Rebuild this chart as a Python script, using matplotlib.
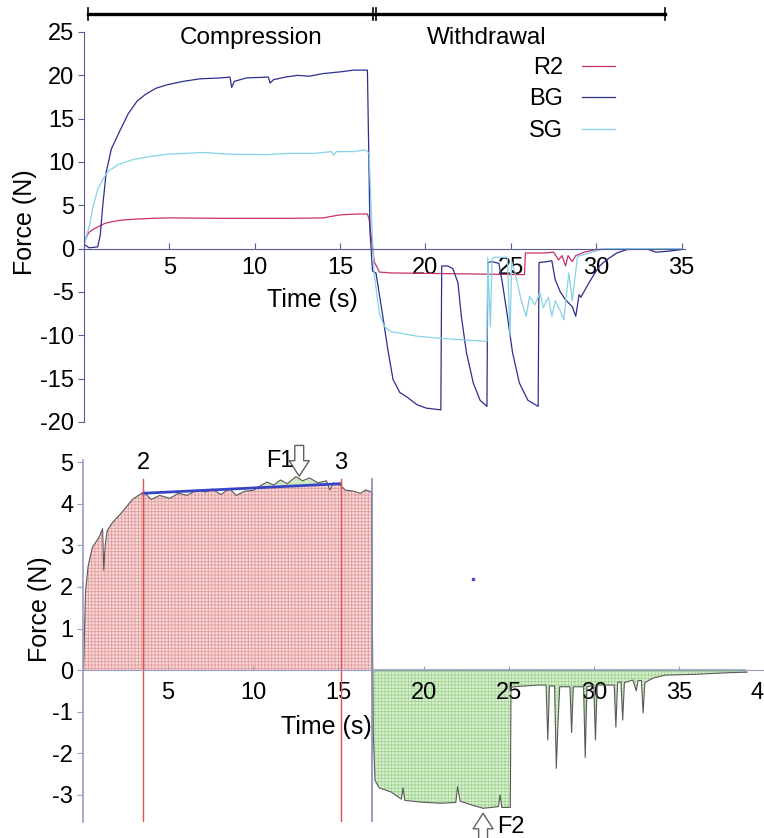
import numpy as np
import matplotlib
matplotlib.use("Agg")
import matplotlib.pyplot as plt  # noqa: E402

plt.rcParams["font.family"] = ["Liberation Sans", "DejaVu Sans"]
plt.rcParams["hatch.linewidth"] = 0.6
plt.rcParams["axes.unicode_minus"] = False

# --- top panel: force traces for the three gel types ---
R2_T = [0, 0.1, 0.3, 0.6, 0.9, 1.2, 1.6, 2.2, 3.0, 4.0, 5.0, 8.0, 12.0, 14.0, 15.0, 16.0,
        16.6, 16.7, 16.85, 17.0, 17.3, 18.0, 22.0, 25.8, 25.85, 27.0, 27.5, 27.8, 28.0,
        28.2, 28.35, 28.6, 28.8, 29.3, 30.0, 31.0, 35.0]
R2_F = [0.5, 1.2, 1.9, 2.3, 2.6, 2.9, 3.1, 3.3, 3.4, 3.5, 3.55, 3.5, 3.5, 3.55, 3.9, 4.0,
        4.0, 3.4, 1.0, -1.5, -2.7, -2.8, -2.9, -3.0, -0.5, -0.5, -0.4, -1.3, -0.8,
        -2.0, -0.8, -1.5, -0.8, -0.4, -0.1, 0.0, 0.0]

BG_T = [0, 0.3, 0.8, 0.95, 1.1, 1.3, 1.6, 2.1, 2.6, 3.1, 3.6, 4.2, 4.85, 5.8, 6.8, 8.0,
        8.55, 8.65, 8.8, 9.5, 10.8, 10.9, 11.1, 11.8, 12.5, 13.2, 14.0, 15.0, 15.8, 16.6,
        16.75, 16.9, 17.1, 17.5, 17.8, 18.1, 18.5, 18.9, 19.5, 20.05, 20.9, 20.95, 21.3,
        21.6, 21.9, 22.1, 22.4, 22.8, 23.2, 23.6, 23.65, 23.9, 24.3, 24.5, 24.8, 25.1,
        25.5, 26.0, 26.6, 26.65, 27.1, 27.4, 27.6, 27.9, 28.2, 28.6, 28.8, 29.0, 29.1,
        29.5, 29.8, 30.2, 30.6, 31.2, 31.8, 33.0, 33.5, 34.2, 35.0]
BG_F = [0.5, 0.1, 0.2, 1.5, 5.0, 8.8, 11.5, 13.6, 15.6, 17.0, 17.8, 18.5, 18.9, 19.3, 19.6,
        19.7, 19.8, 18.6, 19.3, 19.7, 19.8, 19.1, 19.5, 19.8, 20.0, 19.9, 20.2, 20.4, 20.6,
        20.6, 2.0, -2.6, -2.8, -7.8, -11.7, -15.1, -16.6, -17.1, -18.0, -18.4, -18.6,
        -2.0, -2.0, -2.3, -3.9, -7.8, -12.0, -15.5, -17.5, -18.2, -1.6, -1.5, -1.7, -3.9,
        -7.8, -12.0, -15.5, -17.5, -18.2, -1.6, -1.5, -1.4, -3.6, -5.0, -5.9, -6.7, -7.8,
        -5.3, -5.6, -4.2, -3.2, -2.0, -1.3, -0.5, -0.1, -0.05, -0.4, -0.3, -0.1]

SG_T = [0, 0.15, 0.3, 0.55, 0.8, 1.1, 1.4, 2.0, 2.9, 3.8, 4.85, 6.0, 7.0, 8.5, 10.7, 12.0,
        13.5, 14.5, 14.6, 14.8, 15.8, 16.5, 16.7, 16.85, 17.0, 17.3, 17.6, 18.0, 18.7, 19.5,
        20.6, 22.0, 23.6, 23.65, 23.8, 23.9, 24.0, 24.8, 24.95, 25.05, 25.3, 25.6, 25.9,
        26.1, 26.4, 26.7, 26.9, 27.2, 27.4, 27.6, 27.9, 28.1, 28.3, 28.4, 28.6, 28.9, 29.6,
        30.5, 35.0]
SG_F = [0.3, 1.5, 2.5, 5.0, 6.8, 8.0, 8.9, 9.7, 10.3, 10.6, 10.9, 11.0, 11.1, 10.9, 10.85,
        11.0, 11.0, 11.2, 10.8, 11.2, 11.2, 11.4, 11.0, 3.0, -3.0, -7.5, -9.0, -9.6, -9.8,
        -10.1, -10.3, -10.5, -10.7, -1.0, -9.0, -1.2, -1.0, -1.0, -10.1, -1.5, -3.2, -5.9,
        -7.8, -5.5, -6.5, -5.1, -6.8, -5.6, -7.8, -6.0, -7.2, -8.2, -4.5, -2.8, -6.0, -0.9,
        -0.5, 0.0, 0.0]

# phase brackets drawn above the top panel: (label, start, end, label centre)
PHASES = [("Compression", 0.23, 16.9, 9.8), ("Withdrawal", 17.1, 34.0, 23.6)]

# --- bottom panel: one annotated R2 trace ---
CURVE_T = [0.0, 0.05, 0.15, 0.3, 0.55, 0.95, 1.15, 1.22, 1.3, 1.42, 1.65, 1.85, 2.3, 2.9,
           3.25, 3.6, 4.0, 4.5, 5.1, 5.6, 6.1, 6.7, 7.2, 7.6, 8.1, 8.6, 9.0, 9.5, 10.0,
           10.3, 10.8, 11.2, 11.6, 12.0, 12.5, 12.9, 13.3, 13.8, 14.3, 14.5, 14.7, 15.1,
           15.4, 15.9, 16.3, 16.6, 16.95, 17.0, 17.05, 17.15, 17.4, 18.1, 18.7, 18.8, 18.9,
           19.8, 21.0, 21.9, 22.0, 22.15, 22.9, 23.5, 24.0, 24.4, 24.5, 24.6, 25.1, 25.14,
           25.6, 26.7, 27.2, 27.3, 27.4, 27.7, 27.8, 27.9, 28.0, 28.6, 28.7, 28.8, 29.4,
           29.5, 29.6, 30.0, 30.1, 30.2, 31.2, 31.3, 31.4, 31.6, 31.7, 31.8, 32.3, 32.5,
           32.6, 32.8, 32.9, 33.0, 33.5, 34.2, 36.0, 38.0, 39.0]
CURVE_F = [0.0, 0.3, 1.9, 2.5, 2.95, 3.2, 3.4, 2.4, 3.0, 3.35, 3.5, 3.6, 3.8, 4.1,
           4.2, 4.28, 4.1, 4.2, 4.13, 4.25, 4.2, 4.33, 4.28, 4.35, 4.22, 4.37, 4.2, 4.3, 4.32,
           4.4, 4.52, 4.45, 4.57, 4.48, 4.65, 4.55, 4.62, 4.5, 4.55, 4.33, 4.5, 4.45,
           4.33, 4.3, 4.25, 4.33, 4.28, 1.0, -1.5, -2.65, -2.83, -2.93, -3.1, -2.83, -3.13,
           -3.17, -3.2, -3.18, -2.8, -3.15, -3.25, -3.32, -3.3, -3.28, -3.0, -3.3, -3.3, -0.41,
           -0.39, -0.36, -0.36, -1.68, -0.38, -0.38, -2.36, -1.28, -0.4, -0.4, -1.5, -0.4, -0.4,
           -2.1, -0.4, -0.37, -1.68, -0.36, -0.36, -1.37, -0.3, -0.28, -1.2, -0.3, -0.24, -0.5,
           -0.25, -0.25, -1.03, -0.3, -0.19, -0.12, -0.1, -0.06, -0.05]
PHASE_SPLIT = 17.0          # end of compression in the bottom trace
FIT_T = [3.54, 15.14]       # plateau fit between markers 2 and 3
FIT_F = [4.25, 4.48]
MARK_T = [3.54, 15.14]
MARK_LABELS = ["2", "3"]
F1_T, F1_F = 12.7, 4.66
F2_T, F2_F = 23.5, -3.44
STRAY = (22.9, 2.2)

R2_COL, BG_COL, SG_COL = "#c8306e", "#2e2e8f", "#86d2e6"
FS = 17

fig = plt.figure(figsize=(7.64, 8.38), dpi=100, facecolor="white")

# ---------------- top panel ----------------
ax1 = fig.add_axes([84 / 764, 416 / 838, 601 / 764, 390 / 838])
ax1.plot(R2_T, R2_F, color=R2_COL, lw=0.9, label="R2")
ax1.plot(BG_T, BG_F, color=BG_COL, lw=0.9, label="BG")
ax1.plot(SG_T, SG_F, color=SG_COL, lw=0.9, label="SG")
ax1.set_xlim(0, 35.2)
ax1.set_ylim(-20, 25)
for s in ("top", "right"):
    ax1.spines[s].set_visible(False)
ax1.spines["bottom"].set_position(("data", 0))
for s in ("left", "bottom"):
    ax1.spines[s].set_color("#5a5aa0")
ax1.set_xticks([5, 10, 15, 20, 25, 30, 35])
ax1.set_yticks(range(-20, 30, 5))
ax1.tick_params(axis="x", direction="in", length=4, pad=6, labelsize=FS, color="#5a5aa0")
ax1.tick_params(axis="y", direction="out", length=4, pad=3, labelsize=FS, color="#5a5aa0")
ax1.text(13.4, -5.9, "Time (s)", fontsize=FS + 1, ha="center", va="center")

tr = ax1.get_xaxis_transform()
for name, a, b, xc in PHASES:
    ax1.plot([a, b], [1.046, 1.046], color="black", lw=2.4, transform=tr, clip_on=False)
    for x in (a, b):
        ax1.plot([x, x], [1.03, 1.062], color="black", lw=1.2, transform=tr, clip_on=False)
    ax1.text(xc, 0.985, name, fontsize=FS + 0.5, ha="center", va="center", transform=tr)

ax1.legend(loc="upper right", bbox_to_anchor=(615 / 764, 1 - 57 / 838),
           bbox_transform=fig.transFigure, frameon=False, markerfirst=False,
           fontsize=FS, handlelength=1.4, handletextpad=0.8, labelspacing=0.4,
           borderpad=0, borderaxespad=0)

fig.text(25 / 764, 1 - 222 / 838, "Force (N)", rotation=90, fontsize=FS + 1,
         ha="center", va="center")

# ---------------- bottom panel ----------------
ax2 = fig.add_axes([83 / 764, 16 / 838, 681 / 764, 362 / 838])
t = np.array(CURVE_T)
f = np.array(CURVE_F)
comp = t <= PHASE_SPLIT
ax2.fill_between(t, 0, f, where=comp, facecolor="#f7dada", edgecolor="#e39c9c",
                 hatch="+++++", lw=0, interpolate=True)
ax2.fill_between(t, 0, f, where=t >= PHASE_SPLIT, facecolor="#dcf1d4", edgecolor="#9fd48f",
                 hatch="+++++", lw=0, interpolate=True)
fit_on_curve = np.interp(t, FIT_T, FIT_F)
above = (t >= FIT_T[0]) & (t <= FIT_T[1]) & (f > fit_on_curve)
ax2.fill_between(t, fit_on_curve, f, where=above, facecolor="#cdeac2", lw=0,
                 interpolate=True)
ax2.plot(t, f, color="#5a5a5a", lw=0.8)
ax2.plot(FIT_T, FIT_F, color="#3844c4", lw=2.0)
for x, lab in zip(MARK_T, MARK_LABELS):
    ax2.axvline(x, ymax=(4.6 + 3.65) / 8.7, color="#e05050", lw=1.0)
    ax2.text(x, 4.97, lab, fontsize=FS, ha="center", va="center")
ax2.axvline(PHASE_SPLIT, ymax=(4.6 + 3.65) / 8.7, color="#8888b8", lw=1.2)
ax2.plot(*STRAY, "s", color="#4848c0", ms=1.5)

arrow = dict(arrowstyle="simple,head_length=0.7,head_width=0.9,tail_width=0.4",
             fc="white", ec="#606060", lw=1.0, mutation_scale=16, shrinkA=0, shrinkB=0)
ax2.annotate("", xy=(F1_T, F1_F), xytext=(F1_T, 5.4), annotation_clip=False,
             arrowprops=arrow)
ax2.text(11.55, 5.02, "F1", fontsize=FS, ha="center", va="center")
ax2.annotate("", xy=(F2_T, F2_F), xytext=(F2_T, -4.1), annotation_clip=False,
             arrowprops=arrow)
ax2.text(25.15, -3.77, "F2", fontsize=FS, ha="center", va="center", clip_on=False)

ax2.set_xlim(0, 38.9)
ax2.set_ylim(-3.65, 5.05)
for s in ("top", "right"):
    ax2.spines[s].set_visible(False)
ax2.spines["bottom"].set_position(("data", 0))
ax2.spines["left"].set_color("#9a9ac8")
ax2.spines["left"].set_linewidth(1.2)
ax2.spines["bottom"].set_color("#9a9ac8")
ax2.plot([PHASE_SPLIT, 38.9], [0, 0], color="#86b4ac", lw=1.2)
ax2.set_xticks([5, 10, 15, 20, 25, 30, 35, 40])
ax2.set_yticks(range(-3, 6))
ax2.tick_params(axis="x", direction="in", length=3, pad=8.5, labelsize=FS, color="#9a9ac8")
ax2.tick_params(axis="y", direction="out", length=4, pad=3, labelsize=FS, color="#9a9ac8")
ax2.text(14.3, -1.37, "Time (s)", fontsize=FS + 1, ha="center", va="center")
fig.text(40 / 764, 1 - 609 / 838, "Force (N)", rotation=90, fontsize=FS + 1,
         ha="center", va="center")

fig.savefig("out.png", dpi=100)
plt.close(fig)
